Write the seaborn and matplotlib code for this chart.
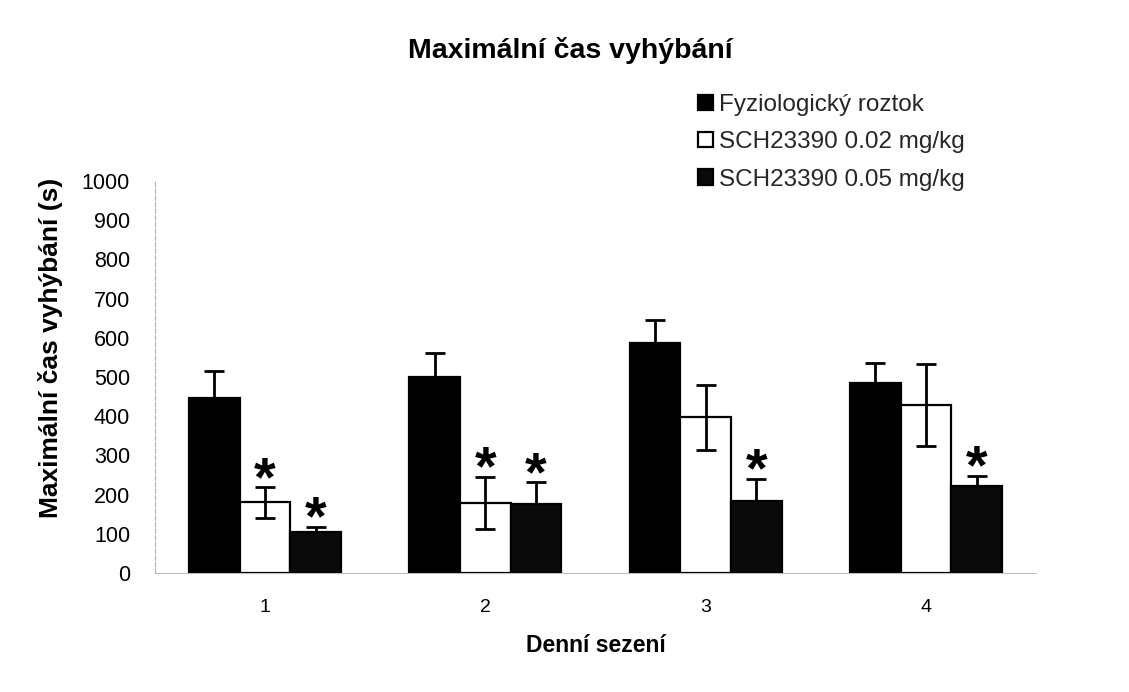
import matplotlib
matplotlib.use("Agg")
import matplotlib.pyplot as plt
from matplotlib.patches import Patch
import seaborn as sns
import pandas as pd
import numpy as np

# ---- data ----
sessions = ["1", "2", "3", "4"]
groups = ["Fyziologický roztok", "SCH23390 0.02 mg/kg", "SCH23390 0.05 mg/kg"]
means_saline = [446, 501, 586, 485]
means_sch002 = [180, 179, 397, 428]
means_sch005 = [105, 176, 184, 223]
err_saline = [70, 59, 59, 50]
err_sch002 = [39, 67, 83, 105]
err_sch005 = [13, 55, 56, 25]
# significance stars: (session index, group index)
stars = [(0, 1), (0, 2), (1, 1), (1, 2), (2, 2), (3, 2)]

title = "Maximální čas vyhýbání"
ylabel = "Maximální čas vyhýbání (s)"
xlabel = "Denní sezení"
yticks = list(range(0, 1001, 100))

colors = ["#000000", "#ffffff", "#0a0a0a"]

means = [means_saline, means_sch002, means_sch005]
errs = [err_saline, err_sch002, err_sch005]
rows = []
for g, gname in enumerate(groups):
    for s, sname in enumerate(sessions):
        rows.append({"session": sname, "group": gname,
                     "mean": means[g][s], "err": errs[g][s]})
df = pd.DataFrame(rows)

sns.set_theme(style="white")
plt.rcParams["font.family"] = ["Liberation Sans", "DejaVu Sans"]

fig = plt.figure(figsize=(11.29, 6.92), dpi=100)
ax = fig.add_axes([155 / 1129, 1 - 573 / 692, 881 / 1129, 392 / 692])

sns.barplot(data=df, x="session", y="mean", hue="group", order=sessions,
            hue_order=groups, palette=colors, errorbar=None, width=0.69,
            edgecolor="black", linewidth=1.6, saturation=1, legend=False, ax=ax)
for p in ax.patches:
    p.set_zorder(3)

bar_containers = list(ax.containers)
# error bars and stars from the bars' own positions
for g, cont in enumerate(bar_containers):
    xs = [p.get_x() + p.get_width() / 2 for p in cont.patches]
    hs = [p.get_height() for p in cont.patches]
    # dark bars hide the lower half of their bars (black on black)
    z = 5 if colors[g] == "#ffffff" else 2
    ax.errorbar(xs, hs, yerr=errs[g], fmt="none", ecolor="black",
                elinewidth=2, capsize=7, capthick=2, zorder=z)
    for (s, gg) in stars:
        if gg == g:
            ax.annotate("*", xy=(xs[s], hs[s] + errs[g][s]),
                        xytext=(0, -5.5), textcoords="offset points",
                        ha="center", va="baseline", fontsize=40,
                        fontweight="bold", color="black", zorder=6)

ax.set_xlim(-0.5, 3.5)
ax.set_ylim(0, 1000)
ax.set_yticks(yticks)
ax.set_yticklabels([str(v) for v in yticks])
ax.tick_params(axis="y", length=0, pad=18, labelsize=15.5, colors="black")
ax.tick_params(axis="x", length=0, pad=19, labelsize=14, colors="black")
ax.set_xticks([0.5, 1.5, 2.5, 3.5], minor=True)
ax.tick_params(axis="x", which="minor", length=5, width=1, color="#aaaaaa",
               direction="out")

for sp in ["top", "right"]:
    ax.spines[sp].set_visible(False)
ax.spines["left"].set_color("#b0b0b0")
ax.spines["left"].set_linestyle((0, (4, 2)))
ax.spines["left"].set_linewidth(0.8)
ax.spines["bottom"].set_color("#c0c0c0")
ax.spines["bottom"].set_linewidth(0.8)

ax.set_ylabel(ylabel, fontsize=19, fontweight="bold", color="black")
ax.yaxis.set_label_coords(-0.104, 0.575)
ax.set_xlabel(xlabel, fontsize=16.5, fontweight="bold", color="black")
ax.xaxis.set_label_coords(0.5, -0.155)

fig.text(570 / 1129, 1 - 51 / 692, title, ha="center", va="center",
         fontsize=20.5, fontweight="bold", color="black")

handles = [Patch(facecolor=c, edgecolor="black", linewidth=1.6) for c in colors]
leg = fig.legend(handles, groups, loc="upper left",
                 bbox_to_anchor=(698 / 1129, 1 - 94 / 692),
                 bbox_transform=fig.transFigure, frameon=False,
                 fontsize=17.5, handlelength=0.6, handleheight=0.6,
                 handletextpad=0.25, labelspacing=0.63, borderpad=0,
                 borderaxespad=0)

fig.savefig("out.png", dpi=100, facecolor="white")
